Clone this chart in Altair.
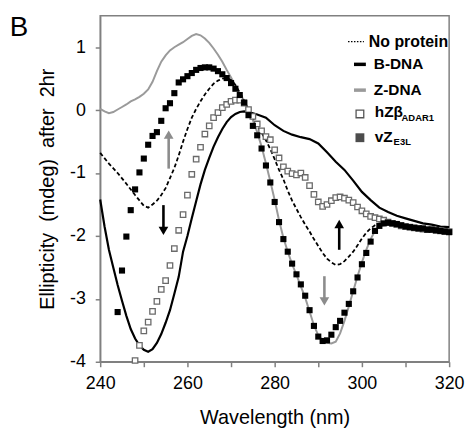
import altair as alt
import pandas as pd

# ---------------- data ----------------
vz_nm = list(range(244, 321))
vz_val = [-3.21, -2.55, -2.01, -1.59, -1.26, -0.99, -0.77, -0.55, -0.41, -0.35,
          -0.17, 0.03, 0.11, 0.27, 0.44, 0.49, 0.54, 0.59, 0.64, 0.67,
          0.68, 0.68, 0.66, 0.62, 0.57, 0.51, 0.43, 0.34, 0.24, 0.12,
          -0.08, -0.25, -0.40, -0.61, -0.88, -1.15, -1.46, -1.78, -2.05, -2.25,
          -2.44, -2.61, -2.77, -2.95, -3.18, -3.43, -3.60, -3.67, -3.66, -3.57,
          -3.45, -3.35, -3.22, -3.08, -2.88, -2.66, -2.45, -2.27, -2.09, -1.92,
          -1.84, -1.80, -1.79, -1.80, -1.81, -1.83, -1.85, -1.86, -1.87, -1.88,
          -1.88, -1.90, -1.90, -1.91, -1.92, -1.93, -1.94]

hz_nm = list(range(248, 321))
hz_val = [-3.98, -3.74, -3.51, -3.37, -3.20, -3.04, -2.85, -2.71, -2.47, -2.20,
          -1.91, -1.66, -1.35, -1.02, -0.78, -0.59, -0.38, -0.25, -0.12, -0.04,
          0.04, 0.09, 0.14, 0.16, 0.16, 0.11, 0.01, -0.10, -0.22, -0.33,
          -0.42, -0.47, -0.63, -0.76, -0.90, -0.97, -1.01, -1.03, -1.00, -1.07,
          -1.20, -1.34, -1.46, -1.53, -1.50, -1.44, -1.39, -1.38, -1.40, -1.43,
          -1.47, -1.54, -1.60, -1.65, -1.69, -1.71, -1.73, -1.75, -1.78, -1.80,
          -1.82, -1.84, -1.85, -1.86, -1.87, -1.88, -1.89, -1.90, -1.90, -1.91,
          -1.92, -1.93, -1.93]

np_nm = [240, 242, 244, 246, 248, 250, 251, 252, 253, 254, 255, 256, 257, 258, 259,
         260, 261, 262, 263, 264, 265, 266, 267, 268, 269, 270, 271, 272, 273, 274,
         275, 276, 277, 278, 279, 280, 281, 282, 283, 284, 285, 286, 287, 288, 289,
         290, 291, 292, 293, 294, 295, 296, 297, 298, 299, 300, 301, 302, 303, 304,
         306, 308, 310, 312, 314, 316, 318, 320]
np_val = [-0.68, -0.85, -1.00, -1.17, -1.35, -1.52, -1.55, -1.50, -1.44, -1.35,
          -1.24, -1.08, -0.92, -0.72, -0.50, -0.30, -0.12, 0.02, 0.14, 0.25,
          0.34, 0.42, 0.47, 0.50, 0.51, 0.48, 0.40, 0.28, 0.15, 0.01,
          -0.12, -0.25, -0.36, -0.48, -0.62, -0.78, -0.95, -1.10, -1.28, -1.44,
          -1.57, -1.70, -1.82, -1.93, -2.05, -2.16, -2.27, -2.36, -2.42, -2.46,
          -2.45, -2.40, -2.33, -2.25, -2.15, -2.04, -1.95, -1.88, -1.83, -1.80,
          -1.80, -1.82, -1.84, -1.86, -1.87, -1.88, -1.90, -1.90]

b_nm = [240, 241, 242, 243, 244, 245, 246, 247, 248, 249, 250, 251, 252, 253, 254,
        255, 256, 257, 258, 259, 260, 261, 262, 263, 264, 265, 266, 267, 268, 269,
        270, 271, 272, 273, 274, 275, 276, 278, 280, 282, 284, 286, 288, 290, 292,
        294, 296, 298, 300, 302, 304, 306, 308, 310, 312, 314, 316, 318, 320]
b_val = [-1.42, -1.85, -2.22, -2.50, -2.78, -3.03, -3.27, -3.48, -3.63, -3.74,
         -3.81, -3.84, -3.80, -3.70, -3.56, -3.38, -3.18, -2.92, -2.65, -2.25,
         -2.00, -1.72, -1.45, -1.18, -0.95, -0.76, -0.58, -0.43, -0.30, -0.19,
         -0.11, -0.06, -0.03, -0.02, -0.03, -0.05, -0.07, -0.12, -0.24, -0.33,
         -0.39, -0.43, -0.46, -0.53, -0.67, -0.82, -0.95, -1.12, -1.30, -1.43,
         -1.55, -1.62, -1.68, -1.72, -1.76, -1.80, -1.82, -1.85, -1.86]

z_nm = [240, 241, 242, 243, 244, 245, 246, 247, 248, 249, 250, 251, 252, 253, 254,
        255, 256, 257, 258, 259, 260, 261, 262, 263, 264, 265, 266, 267, 268, 269,
        270, 271, 272, 273, 274, 275, 276, 277, 278, 279, 280, 281, 282, 283, 284,
        285, 286, 287, 288, 289, 290, 291, 292, 293, 294, 295, 296, 297, 298, 299,
        300, 301, 302, 303, 304, 306, 308, 310, 312, 314, 316, 318, 320]
z_val = [0.02, -0.02, -0.05, -0.03, 0.01, 0.05, 0.09, 0.14, 0.17, 0.21,
         0.26, 0.33, 0.45, 0.62, 0.77, 0.87, 0.95, 1.00, 1.04, 1.08,
         1.13, 1.18, 1.21, 1.19, 1.14, 1.07, 0.98, 0.88, 0.77, 0.64,
         0.52, 0.39, 0.27, 0.14, 0.00, -0.16, -0.35, -0.58, -0.85, -1.13,
         -1.43, -1.75, -2.03, -2.25, -2.45, -2.62, -2.80, -2.98, -3.20, -3.42,
         -3.58, -3.66, -3.70, -3.71, -3.68, -3.55, -3.35, -3.12, -2.88, -2.64,
         -2.42, -2.22, -2.05, -1.92, -1.85, -1.82, -1.83, -1.85, -1.87, -1.88,
         -1.89, -1.91, -1.92]

# arrows (annotations)
arrow_nm = [255.7, 254.5, 294.8, 291.4]
arrow_from = [-0.93, -1.51, -2.22, -2.64]
arrow_to = [-0.30, -2.01, -1.72, -3.13]
arrow_color = ["#8c8c8c", "#000000", "#000000", "#8c8c8c"]

# ---------------- chart ----------------
FONT = "Liberation Sans"
xs = alt.Scale(domain=[240, 320], nice=False, zero=False)
ys = alt.Scale(domain=[-4, 1.5], nice=False, zero=False)

x_axis = alt.Axis(values=list(range(240, 321, 10)),
                  labelExpr="datum.value % 20 === 0 ? '' + datum.value : ''",
                  title="Wavelength (nm)", grid=False, tickSize=5,
                  labelFontSize=18, titleFontSize=20, labelPadding=8, titlePadding=15,
                  labelFont=FONT, titleFont=FONT, titleFontWeight="normal",
                  labelColor="#000", titleColor="#000",
                  domainColor="#808080", tickColor="#808080", domainWidth=1.5, tickWidth=1.5,
                  labelFlush=False)
y_axis = alt.Axis(values=[v / 2 for v in range(-8, 3)],
                  labelExpr="datum.value % 1 === 0 ? '' + datum.value : ''",
                  title="Ellipticity\u00a0 (mdeg)\u00a0 after\u00a0 2hr", grid=False, tickSize=5,
                  labelFontSize=18, titleFontSize=20, labelPadding=10, titlePadding=12,
                  labelFont=FONT, titleFont=FONT, titleFontWeight="normal",
                  labelColor="#000", titleColor="#000",
                  domainColor="#808080", tickColor="#808080", domainWidth=1.5, tickWidth=1.5,
                  labelFlush=False)


def series(nm, val):
    return pd.DataFrame({"nm": nm, "val": val})


z_df = series(z_nm, z_val)
b_df = series(b_nm, b_val)
np_df = series(np_nm, np_val)
hz_df = series(hz_nm, hz_val)
vz_df = series(vz_nm, vz_val)

X = alt.X("nm:Q", scale=xs, axis=x_axis)
Y = alt.Y("val:Q", scale=ys, axis=y_axis)

z_line = alt.Chart(z_df).mark_line(color="#9a9a9a", strokeWidth=2).encode(x=X, y=Y)
b_line = alt.Chart(b_df).mark_line(color="#000", strokeWidth=2.2).encode(x=X, y=Y)
np_line = alt.Chart(np_df).mark_line(color="#000", strokeWidth=1.8, strokeDash=[4, 2.5]).encode(x=X, y=Y)
hz_pts = alt.Chart(hz_df).mark_square(filled=False, color="#6a6a6a", size=30, strokeWidth=1.3,
                                      fill="#ffffff", fillOpacity=1, opacity=1).encode(x=X, y=Y)
vz_pts = alt.Chart(vz_df).mark_square(filled=True, color="#000", size=38, opacity=1).encode(x=X, y=Y)

arr_df = pd.DataFrame({"nm": arrow_nm, "y0": arrow_from, "y1": arrow_to, "c": arrow_color})
arr_df["dirn"] = [1 if t > f else -1 for f, t in zip(arrow_from, arrow_to)]
arr_df["yh"] = arr_df["y1"] - arr_df["dirn"] * 0.09
arr_df["shape"] = ["triangle-up" if d > 0 else "triangle-down" for d in arr_df["dirn"]]

shafts = alt.Chart(arr_df).mark_rule(strokeWidth=2.6).encode(
    x=alt.X("nm:Q", scale=xs), y=alt.Y("y0:Q", scale=ys), y2="yh:Q",
    color=alt.Color("c:N", scale=None))
heads = alt.Chart(arr_df).mark_point(filled=True, size=95, opacity=1).encode(
    x=alt.X("nm:Q", scale=xs), y=alt.Y("yh:Q", scale=ys),
    color=alt.Color("c:N", scale=None), shape=alt.Shape("shape:N", scale=None))

one = alt.Data(values=[{"k": 1}])
OX, OY = 101, 14  # plot origin on page


def leg_text(txt, px, py, size=15.5, weight="bold"):
    return alt.Chart(one).mark_text(text=txt, align="left", baseline="middle", font=FONT,
                                    fontSize=size, fontWeight=weight, color="#000").encode(
        x=alt.value(px - OX), y=alt.value(py - OY))


def leg_rule(px0, px1, py, color, width, dash=None):
    kw = dict(color=color, strokeWidth=width)
    if dash:
        kw["strokeDash"] = dash
    return alt.Chart(one).mark_rule(**kw).encode(
        x=alt.value(px0 - OX), x2=alt.value(px1 - OX), y=alt.value(py - OY))


legend_layers = [
    leg_rule(351, 367, 40, "#000", 1.3, [1.5, 1.5]),
    leg_text("No protein", 372, 40, size=16),
    leg_rule(357, 369, 63, "#000", 3.5),
    leg_text("B-DNA", 377, 63),
    leg_rule(357, 369, 89, "#9a9a9a", 3.5),
    leg_text("Z-DNA", 377, 89),
    alt.Chart(one).mark_square(filled=False, color="#555", size=60, strokeWidth=1.3,
                               fill="#fff", fillOpacity=1).encode(
        x=alt.value(363 - OX), y=alt.value(113 - OY)),
    leg_text("hZβ", 378, 111),
    leg_text("ADAR1", 405, 117, size=9.5),
    alt.Chart(one).mark_square(filled=True, color="#000", size=80).encode(
        x=alt.value(363 - OX), y=alt.value(137 - OY)),
    leg_text("vZ", 378, 136),
    leg_text("E3L", 397, 141, size=9.5),
    alt.Chart(one).mark_text(text="B", align="center", baseline="middle", font=FONT,
                             fontSize=28, color="#000").encode(
        x=alt.value(19 - OX), y=alt.value(26 - OY)),
]

chart = alt.layer(
    z_line, b_line, np_line, hz_pts, vz_pts, shafts, heads, *legend_layers
).properties(
    width=352, height=349,
    autosize=alt.AutoSizeParams(type="none"),
    padding={"left": 93, "top": 6, "right": 16, "bottom": 68},
).configure_view(stroke="#808080", strokeWidth=1.5)

chart.save("out.html", embed_options={"renderer": "svg", "actions": False})
